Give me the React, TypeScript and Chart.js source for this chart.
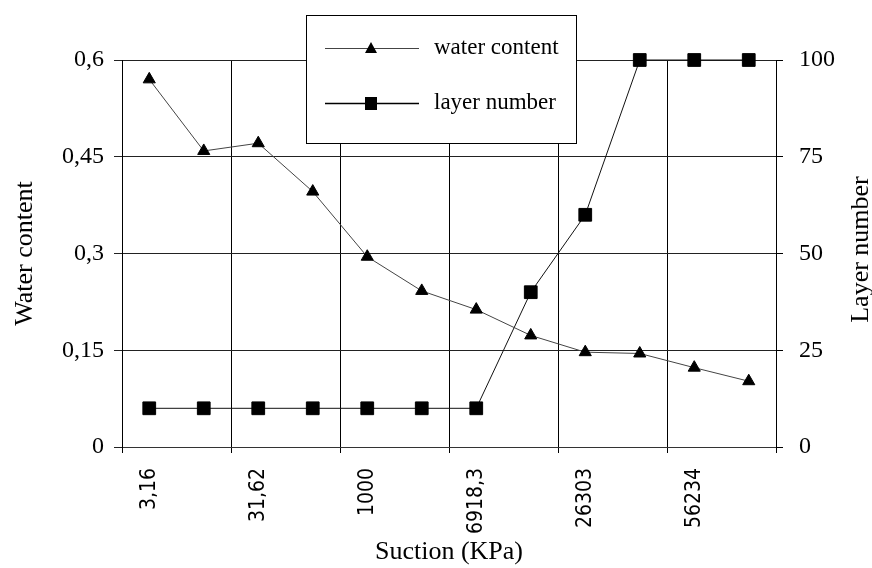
import React, { useEffect, useRef } from 'react';
import { Chart, registerables } from 'chart.js';

Chart.register(...registerables);

const CATEGORIES = ['3,16', '', '31,62', '', '1000', '', '6918,3', '', '26303', '', '56234', ''];
const WATER_CONTENT = [0.57, 0.459, 0.471, 0.396, 0.295, 0.242, 0.213, 0.173, 0.147, 0.145, 0.123, 0.102];
const LAYER_NUMBER = [10, 10, 10, 10, 10, 10, 10, 40, 60, 100, 100, 100];
const WATER_TICKS = [0, 0.15, 0.3, 0.45, 0.6];
const WATER_TICK_LABELS = ['0', '0,15', '0,3', '0,45', '0,6'];
const LAYER_TICKS = [0, 25, 50, 75, 100];
const LAYER_TICK_LABELS = ['0', '25', '50', '75', '100'];
const SERIES_NAMES = ['water content', 'layer number'];
const X_TITLE = 'Suction (KPa)';
const Y_TITLE = 'Water content';
const Y1_TITLE = 'Layer number';

const SERIF = '"Liberation Serif", "Times New Roman", serif';
const NARROW = '"Liberation Sans Narrow", "DejaVu Sans Condensed", "Arial Narrow", sans-serif';

const overlayPlugin = {
  id: 'overlay',
  afterDraw(chart: any) {
    const ctx = chart.ctx as CanvasRenderingContext2D;
    const ca = chart.chartArea;
    ctx.save();
    // right axis title (reads bottom to top)
    ctx.fillStyle = '#000';
    ctx.font = `26px ${SERIF}`;
    ctx.translate(868, (ca.top + ca.bottom) / 2 - 4);
    ctx.rotate(-Math.PI / 2);
    ctx.textAlign = 'center';
    ctx.textBaseline = 'alphabetic';
    ctx.fillText(Y1_TITLE, 0, 0);
    ctx.restore();

    // legend box
    ctx.save();
    ctx.fillStyle = '#fff';
    ctx.fillRect(306, 15, 270, 128);
    ctx.strokeStyle = '#000';
    ctx.lineWidth = 1;
    ctx.strokeRect(306.5, 15.5, 270, 128);

    const rows = [
      { y: 48, color: '#444', width: 1, style: 'triangle' },
      { y: 103, color: '#000', width: 1.5, style: 'rect' },
    ];
    rows.forEach((r, i) => {
      ctx.strokeStyle = r.color;
      ctx.lineWidth = r.width;
      ctx.beginPath();
      ctx.moveTo(325, r.y + 0.5);
      ctx.lineTo(419, r.y + 0.5);
      ctx.stroke();
      ctx.fillStyle = '#000';
      ctx.beginPath();
      if (r.style === 'triangle') {
        ctx.moveTo(371, r.y - 6);
        ctx.lineTo(377, r.y + 5);
        ctx.lineTo(365, r.y + 5);
        ctx.closePath();
      } else {
        ctx.rect(365, r.y - 6, 12, 13);
      }
      ctx.fill();
      ctx.font = `23px ${SERIF}`;
      ctx.textAlign = 'left';
      ctx.textBaseline = 'middle';
      ctx.fillText(SERIES_NAMES[i], 434, r.y);
    });
    ctx.restore();
  },
};

export default function App() {
  const ref = useRef<HTMLCanvasElement | null>(null);

  useEffect(() => {
    if (!ref.current) return;
    Chart.defaults.font.family = SERIF;
    Chart.defaults.color = '#000';
    const chart = new Chart(ref.current, {
      type: 'line',
      data: {
        labels: CATEGORIES,
        datasets: [
          {
            label: SERIES_NAMES[0],
            data: WATER_CONTENT,
            yAxisID: 'y',
            borderColor: '#444',
            borderWidth: 1,
            pointStyle: 'triangle',
            pointRadius: 7,
            pointBackgroundColor: '#000',
            pointBorderColor: '#000',
            pointBorderWidth: 1,
            tension: 0,
            clip: false as any,
          },
          {
            label: SERIES_NAMES[1],
            data: LAYER_NUMBER,
            yAxisID: 'y1',
            borderColor: '#111',
            borderWidth: 1,
            pointStyle: 'rect',
            pointRadius: 9,
            pointBackgroundColor: '#000',
            pointBorderColor: '#000',
            pointBorderWidth: 1,
            tension: 0,
            clip: false as any,
          },
        ],
      },
      options: {
        animation: false,
        responsive: false,
        maintainAspectRatio: false,
        devicePixelRatio: 1,
        layout: { padding: { top: 60, left: 0, right: 0, bottom: 0 } },
        plugins: {
          legend: { display: false },
          tooltip: { enabled: false },
        },
        scales: {
          x: {
            type: 'category',
            offset: true,
            grid: {
              offset: true,
              color: (c: any) => (c.index === undefined || c.index % 2 === 0 ? '#000' : 'rgba(0,0,0,0)'),
              lineWidth: 1,
              tickLength: 6,
            },
            border: { display: true, color: '#333', width: 1 },
            ticks: {
              autoSkip: false,
              minRotation: 90,
              maxRotation: 90,
              padding: 15,
              color: '#000',
              font: { family: NARROW, size: 21 },
            },
            title: {
              display: true,
              text: X_TITLE,
              color: '#000',
              font: { family: SERIF, size: 26 },
              padding: { top: 0, bottom: 0 },
            },
            afterFit: (s: any) => {
              s.height = 121;
            },
          },
          y: {
            position: 'left',
            min: 0,
            max: 0.6,
            afterBuildTicks: (s: any) => {
              s.ticks = WATER_TICKS.map((v) => ({ value: v }));
            },
            ticks: {
              callback: (_v: any, i: number) => WATER_TICK_LABELS[i],
              padding: 10,
              color: '#000',
              font: { family: SERIF, size: 24 },
            },
            grid: { color: '#222', lineWidth: 1, tickLength: 8 },
            border: { display: true, color: '#000', width: 1 },
            title: {
              display: true,
              text: Y_TITLE,
              color: '#000',
              font: { family: SERIF, size: 26 },
              padding: { top: 10, bottom: 0 },
            },
            afterFit: (s: any) => {
              s.width = 122;
            },
          },
          y1: {
            position: 'right',
            min: 0,
            max: 100,
            afterBuildTicks: (s: any) => {
              s.ticks = LAYER_TICKS.map((v) => ({ value: v }));
            },
            ticks: {
              callback: (_v: any, i: number) => LAYER_TICK_LABELS[i],
              padding: 16,
              color: '#000',
              font: { family: SERIF, size: 24 },
            },
            grid: { drawOnChartArea: false, color: '#000', lineWidth: 1, tickLength: 7 },
            border: { display: true, color: '#000', width: 1 },
            afterFit: (s: any) => {
              s.width = 96;
            },
          },
        },
      } as any,
      plugins: [overlayPlugin],
    });
    return () => chart.destroy();
  }, []);

  return (
    <div style={{ position: 'fixed', left: 0, top: 0, width: 872, height: 568, background: '#fff' }}>
      <canvas ref={ref} width={872} height={568} style={{ display: 'block', width: 872, height: 568 }} />
    </div>
  );
}
